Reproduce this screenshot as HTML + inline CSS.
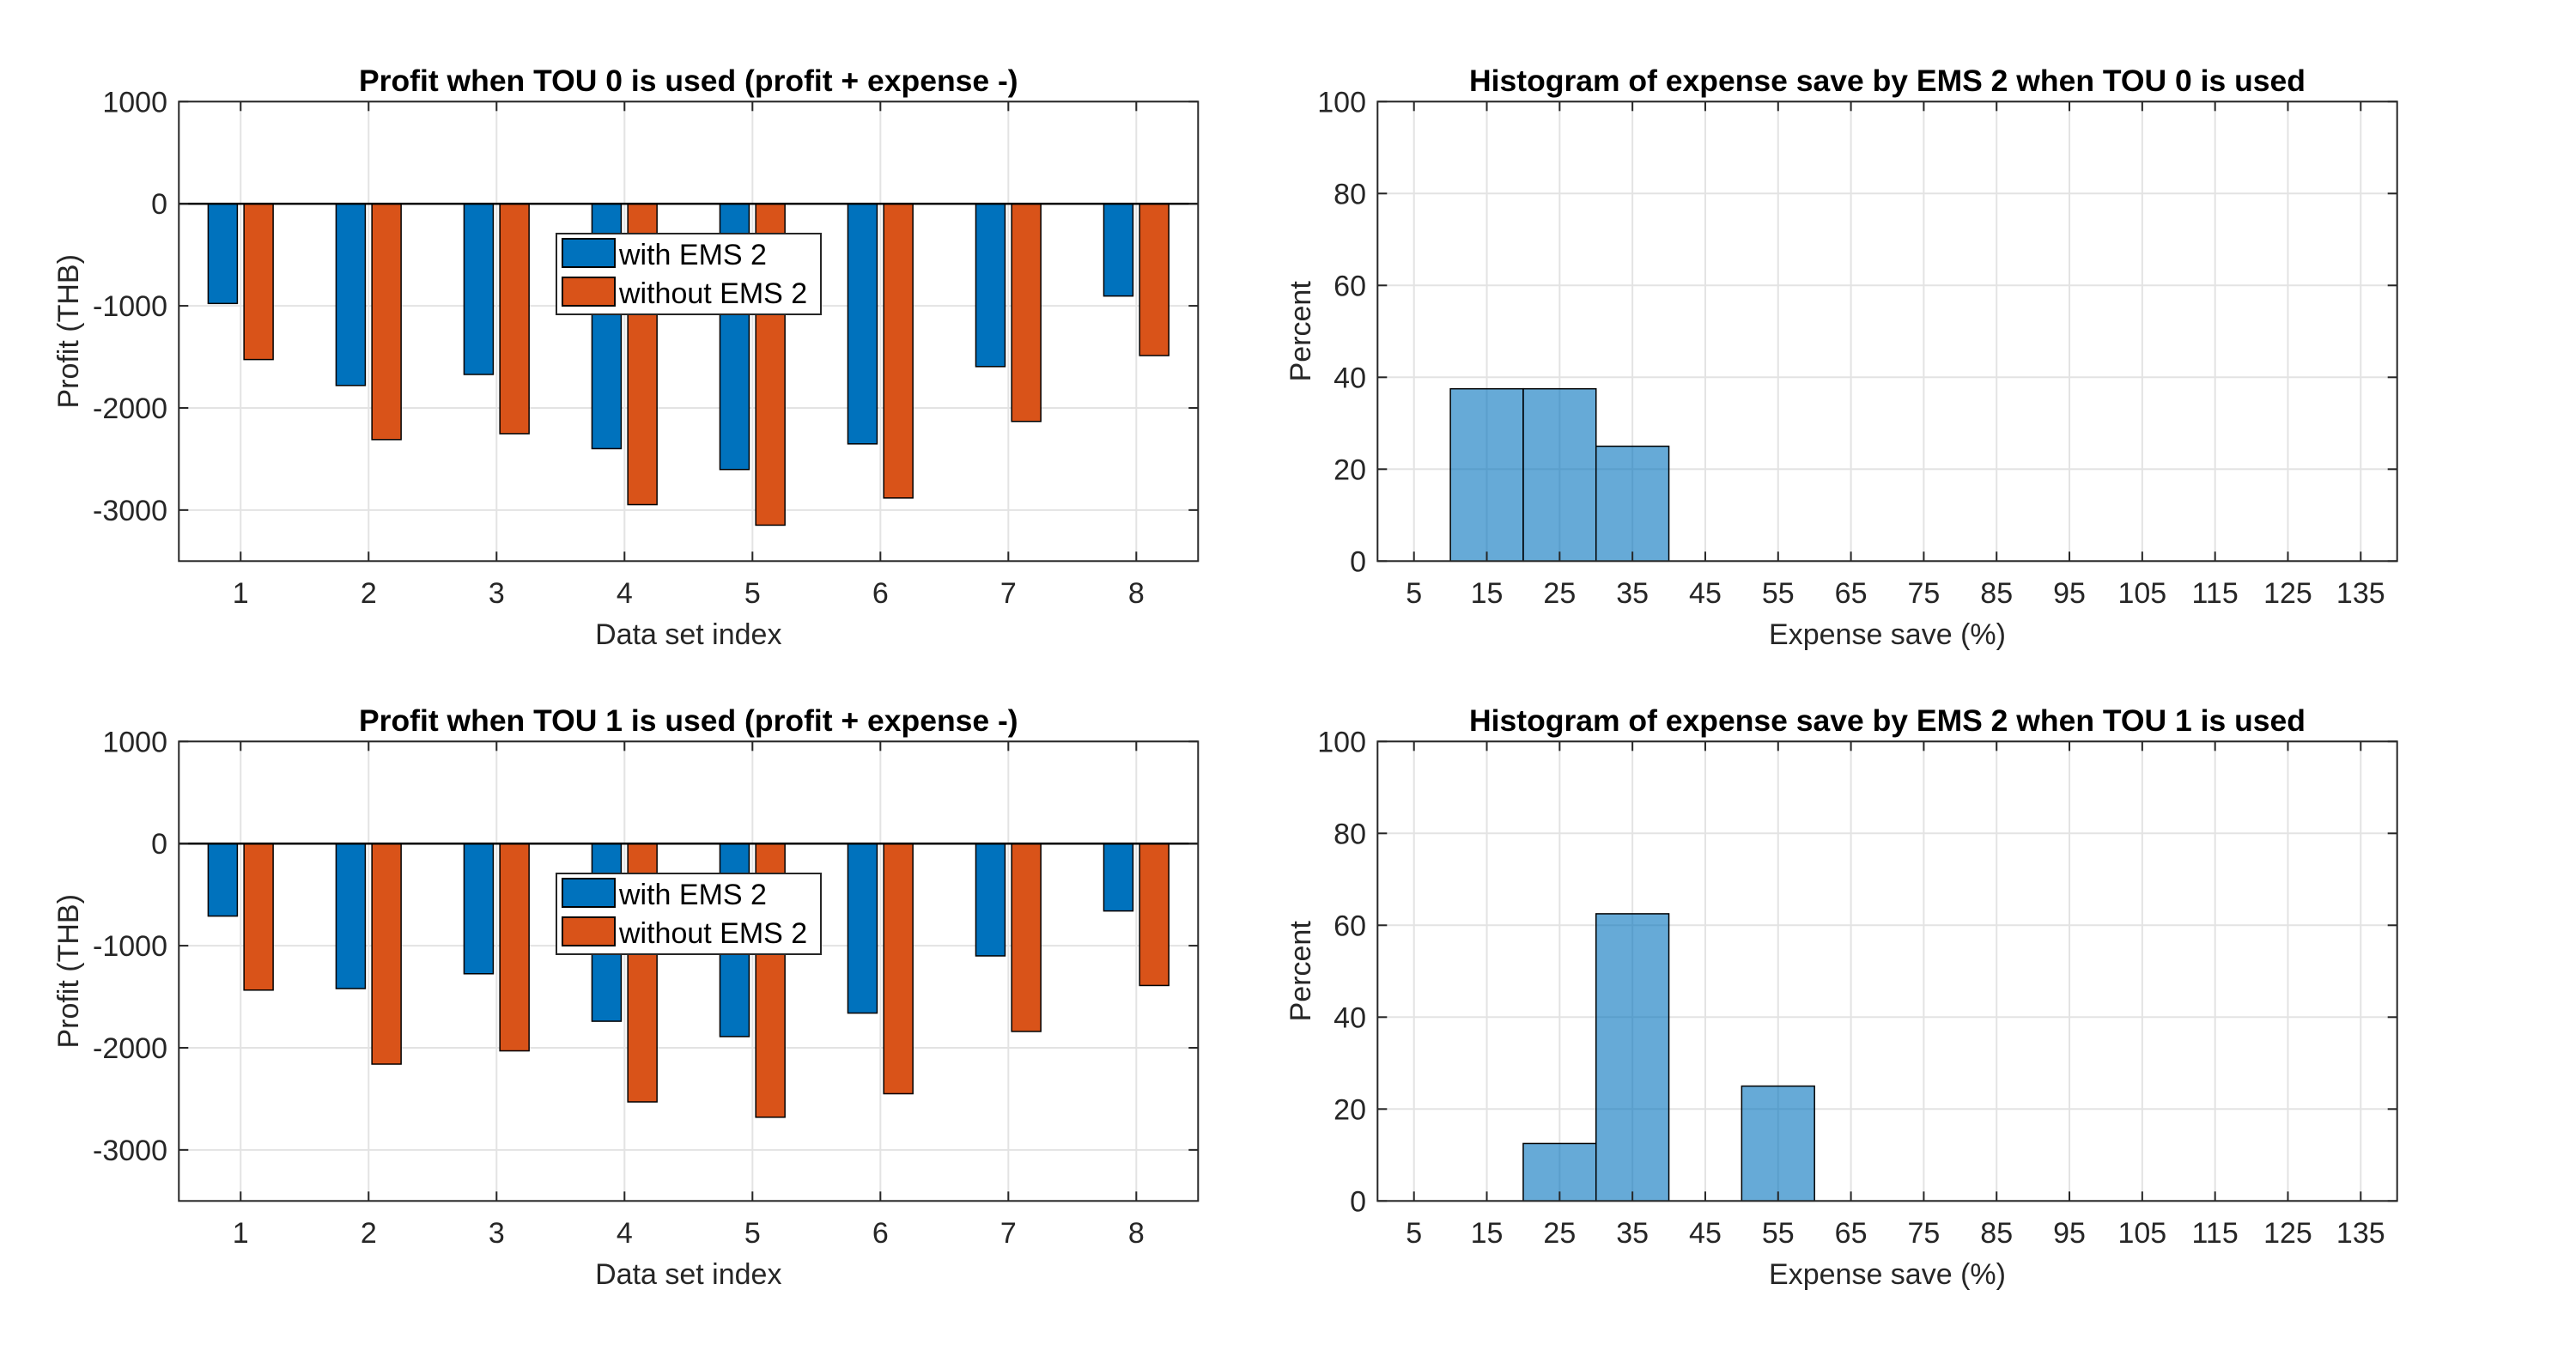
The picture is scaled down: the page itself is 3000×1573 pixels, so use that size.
<!DOCTYPE html>
<html><head><meta charset="utf-8"><style>
html,body{margin:0;padding:0;background:#fff;}
svg{display:block;font-family:"Liberation Sans",Arial,sans-serif;}
</style></head><body>
<svg id="fig" width="3000" height="1573" viewBox="0 0 3000 1573" xmlns="http://www.w3.org/2000/svg"></svg>
<script>
const categories = [1,2,3,4,5,6,7,8];
const withEms0 = [-977,-1780,-1672,-2399,-2603,-2352,-1595,-904];
const withoutEms0 = [-1526,-2310,-2252,-2947,-3148,-2882,-2132,-1487];
const withEms1 = [-710,-1420,-1275,-1740,-1890,-1660,-1100,-660];
const withoutEms1 = [-1435,-2160,-2030,-2530,-2680,-2450,-1840,-1390];
const profitTicks = [1000,0,-1000,-2000,-3000];
const binEdges0 = [10,20,30];
const binPct0 = [37.5,37.5,25];
const binEdges1 = [20,30,50];
const binPct1 = [12.5,62.5,25];
const histXTicks = [5,15,25,35,45,55,65,75,85,95,105,115,125,135];
const histYTicks = [0,20,40,60,80,100];

const NS="http://www.w3.org/2000/svg";
const svg=document.getElementById('fig');
function mk(tag,attrs,parent){const e=document.createElementNS(NS,tag);for(const k in attrs)e.setAttribute(k,attrs[k]);(parent||svg).appendChild(e);return e;}
function txt(s,x,y,attrs,parent){const e=mk('text',Object.assign({x:x,y:y,'font-size':34,fill:'#262626','dominant-baseline':'central'},attrs),parent);e.textContent=s;return e;}

function barPlot(off,withV,withoutV,title,idx){
  const g=mk('g',{});
  
  
  const L=208.3,R=1395.3,T=118.3+off,B=653.3+off;
  const xmin=0.517,xmax=8.483,ymin=-3500,ymax=1000;
  const sx=v=>L+(v-xmin)/(xmax-xmin)*(R-L);
  const sy=v=>T+(ymax-v)/(ymax-ymin)*(B-T);
  mk('rect',{x:L,y:T,width:R-L,height:B-T,fill:'#fff'},g);
  profitTicks.forEach(t=>{mk('line',{x1:L,x2:R,y1:sy(t),y2:sy(t),stroke:'#e3e3e3','stroke-width':2},g);});
  categories.forEach(c=>{mk('line',{x1:sx(c),x2:sx(c),y1:T,y2:B,stroke:'#e3e3e3','stroke-width':2},g);});
  const bw=0.228*(sx(1)-sx(0));
  categories.forEach((c,i)=>{
    const b1=mk('rect',{x:sx(c-0.14)-bw/2,y:sy(0),width:bw,height:sy(withV[i])-sy(0),fill:'#0072BD',stroke:'#000','stroke-width':1.5},g);
    
    
    const b2=mk('rect',{x:sx(c+0.14)-bw/2,y:sy(0),width:bw,height:sy(withoutV[i])-sy(0),fill:'#D95319',stroke:'#000','stroke-width':1.5},g);
    
    
  });
  mk('line',{x1:L,x2:R,y1:sy(0),y2:sy(0),stroke:'#000','stroke-width':2.5},g);
  mk('rect',{x:L,y:T,width:R-L,height:B-T,fill:'none',stroke:'#262626','stroke-width':2},g);
  categories.forEach(c=>{
    mk('line',{x1:sx(c),x2:sx(c),y1:B,y2:B-11,stroke:'#262626','stroke-width':2},g);
    mk('line',{x1:sx(c),x2:sx(c),y1:T,y2:T+11,stroke:'#262626','stroke-width':2},g);
    const t=txt(String(c),sx(c),691+off,{'text-anchor':'middle'},g);
    
    
  });
  profitTicks.forEach(v=>{
    mk('line',{x1:L,x2:L+11,y1:sy(v),y2:sy(v),stroke:'#262626','stroke-width':2},g);
    mk('line',{x1:R,x2:R-11,y1:sy(v),y2:sy(v),stroke:'#262626','stroke-width':2},g);
    const t=txt(String(v),195,sy(v)+1,{'text-anchor':'end'},g);
    
    
  });
  const tt=txt(title,(L+R)/2,94+off,{'text-anchor':'middle','font-weight':'bold',fill:'#000','font-size':35.5},g);
  
  
  const xl=txt('Data set index',(L+R)/2,739+off,{'text-anchor':'middle'},g);
  
  
  const yl=txt('Profit (THB)',0,0,{'text-anchor':'middle',transform:'translate(80,'+((T+B)/2)+') rotate(-90)'},g);
  
  
  const lg=mk('g',{},g);
  
  
  mk('rect',{x:648,y:272+off,width:308,height:94,fill:'#fff',stroke:'#262626','stroke-width':2},lg);
  mk('rect',{x:655,y:278+off,width:61,height:33,fill:'#0072BD',stroke:'#000','stroke-width':2},lg);
  mk('rect',{x:655,y:323+off,width:61,height:33,fill:'#D95319',stroke:'#000','stroke-width':2},lg);
  const l1=txt('with EMS 2',721,297+off,{fill:'#000'},lg);
  
  
  const l2=txt('without EMS 2',721,342+off,{fill:'#000'},lg);
  
  
}

function histPlot(off,edges,pct,title,idx){
  const g=mk('g',{});
  
  
  const L=1604.3,R=2791.7,T=118.3+off,B=653.3+off;
  const sx=v=>L+v/140*(R-L);
  const sy=v=>B-v/100*(B-T);
  histYTicks.forEach(t=>{mk('line',{x1:L,x2:R,y1:sy(t),y2:sy(t),stroke:'#e3e3e3','stroke-width':2},g);});
  histXTicks.forEach(t=>{mk('line',{x1:sx(t),x2:sx(t),y1:T,y2:B,stroke:'#e3e3e3','stroke-width':2},g);});
  edges.forEach((e,i)=>{
    const r=mk('rect',{x:sx(e),y:sy(pct[i]),width:sx(e+10)-sx(e),height:sy(0)-sy(pct[i]),fill:'#0072BD','fill-opacity':0.6,stroke:'#000','stroke-width':1.5},g);
    
    
  });
  mk('rect',{x:L,y:T,width:R-L,height:B-T,fill:'none',stroke:'#262626','stroke-width':2},g);
  histXTicks.forEach(t=>{
    mk('line',{x1:sx(t),x2:sx(t),y1:B,y2:B-11,stroke:'#262626','stroke-width':2},g);
    mk('line',{x1:sx(t),x2:sx(t),y1:T,y2:T+11,stroke:'#262626','stroke-width':2},g);
    const tl=txt(String(t),sx(t),691+off,{'text-anchor':'middle'},g);
    
    
  });
  histYTicks.forEach(v=>{
    mk('line',{x1:L,x2:L+11,y1:sy(v),y2:sy(v),stroke:'#262626','stroke-width':2},g);
    mk('line',{x1:R,x2:R-11,y1:sy(v),y2:sy(v),stroke:'#262626','stroke-width':2},g);
    const tl=txt(String(v),1591,sy(v)+1,{'text-anchor':'end'},g);
    
    
  });
  const tt=txt(title,(L+R)/2,94+off,{'text-anchor':'middle','font-weight':'bold',fill:'#000','font-size':35.5},g);
  
  
  const xl=txt('Expense save (%)',(L+R)/2,739+off,{'text-anchor':'middle'},g);
  
  
  const yl=txt('Percent',0,0,{'text-anchor':'middle',transform:'translate(1515,'+((T+B)/2)+') rotate(-90)'},g);
  
  
}

barPlot(0,withEms0,withoutEms0,'Profit when TOU 0 is used (profit + expense -)',0);
barPlot(745,withEms1,withoutEms1,'Profit when TOU 1 is used (profit + expense -)',1);
histPlot(0,binEdges0,binPct0,'Histogram of expense save by EMS 2 when TOU 0 is used',0);
histPlot(745,binEdges1,binPct1,'Histogram of expense save by EMS 2 when TOU 1 is used',1);
</script>
</body></html>
